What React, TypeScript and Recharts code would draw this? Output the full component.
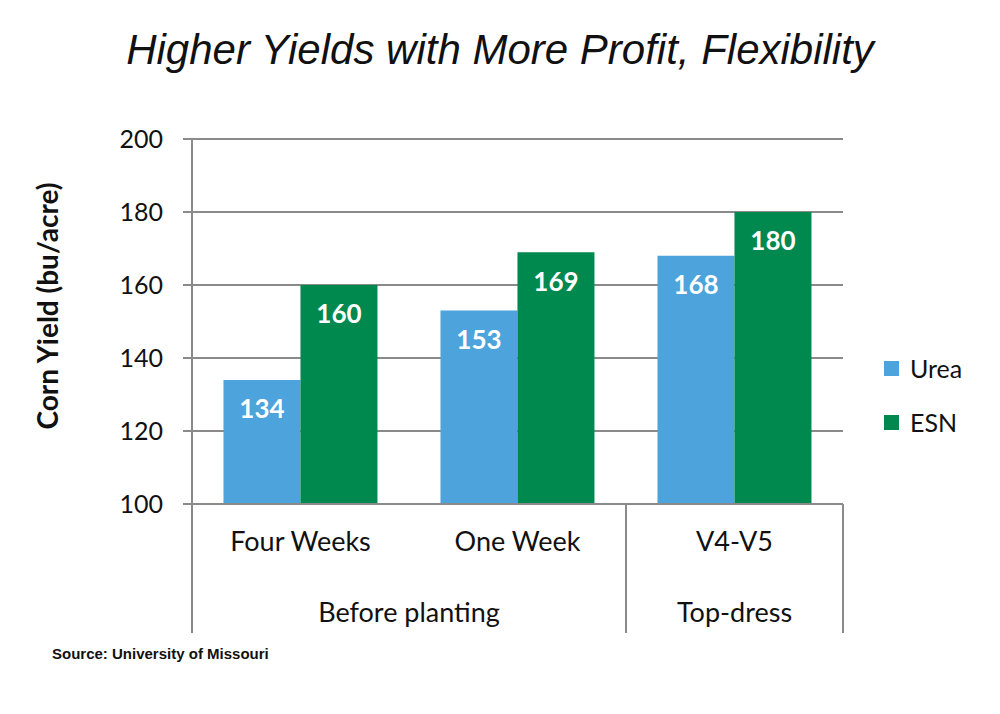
import { Bar, BarChart, CartesianGrid, LabelList, XAxis, YAxis } from "recharts";

const CATEGORIES = ["Four Weeks", "One Week", "V4-V5"];
const GROUPS = ["Before planting", "Before planting", "Top-dress"];
const UREA = [134, 153, 168];
const ESN = [160, 169, 180];
const Y_TICKS = [100, 120, 140, 160, 180, 200];

const BLUE = "#4DA3DB";
const GREEN = "#00894F";
const AXIS = "#8A8A8A";
const FONT = "Lato, 'Open Sans', sans-serif";

const data = CATEGORIES.map((name, i) => ({
  name,
  group: GROUPS[i],
  urea: UREA[i],
  esn: ESN[i],
}));

// two-level category tick: category label, plus group label and separators
function GroupTick(props: any) {
  const { x, payload } = props;
  const y = props.y - 8; // back to the axis line
  const i = payload.index as number;
  const half = payload.offset as number;
  const group = GROUPS[i];
  const first = i === 0 || GROUPS[i - 1] !== group;
  const last = i === GROUPS.length - 1 || GROUPS[i + 1] !== group;
  const size = GROUPS.filter((g) => g === group).length;
  const left = x - half;
  return (
    <g>
      <text x={x} y={y + 47} textAnchor="middle" fontFamily={FONT} fontSize={27} fill="#111">
        {payload.value}
      </text>
      {first && (
        <>
          <line x1={left} y1={y} x2={left} y2={y + 129} stroke={AXIS} strokeWidth={2} />
          <text
            x={left + half * size}
            y={y + 118}
            textAnchor="middle"
            fontFamily={FONT}
            fontSize={27}
            fill="#111"
          >
            {group}
          </text>
        </>
      )}
      {last && (
        <line x1={x + half} y1={y} x2={x + half} y2={y + 129} stroke={AXIS} strokeWidth={2} />
      )}
    </g>
  );
}

function LegendBox() {
  const items = [
    { label: "Urea", color: BLUE },
    { label: "ESN", color: GREEN },
  ];
  return (
    <div style={{ fontFamily: FONT }}>
      {items.map((it) => (
        <div key={it.label} style={{ display: "flex", alignItems: "center", height: 54 }}>
          <span
            style={{ width: 15, height: 15, background: it.color, display: "block", marginRight: 11 }}
          />
          <span style={{ fontSize: 25, color: "#111" }}>{it.label}</span>
        </div>
      ))}
    </div>
  );
}

export default function App() {
  return (
    <div
      style={{
        position: "absolute",
        left: 0,
        top: 0,
        width: 1000,
        height: 714,
        background: "#fff",
      }}
    >
      <div
        style={{
          position: "absolute",
          left: 0,
          width: 1000,
          top: 26,
          textAlign: "center",
          fontFamily: "'Liberation Sans', Arial, sans-serif",
          fontStyle: "italic",
          fontSize: 42,
          lineHeight: "48px",
          color: "#111",
          paddingRight: 4,
        }}
      >
        Higher Yields with More Profit, Flexibility
      </div>
      <div
        style={{
          position: "absolute",
          left: 47,
          top: 306,
          transform: "translate(-50%, -50%) rotate(-90deg)",
          whiteSpace: "nowrap",
          fontFamily: FONT,
          fontWeight: 700,
          fontSize: 28,
          color: "#111",
        }}
      >
        Corn Yield (bu/acre)
      </div>
      <div
        style={{
          position: "absolute",
          left: 52,
          top: 645,
          fontFamily: "'Liberation Sans Narrow', 'Liberation Sans', Arial, sans-serif",
          fontWeight: 700,
          fontSize: 15,
          color: "#111",
        }}
      >
        Source: University of Missouri
      </div>
      <div style={{ position: "absolute", left: 884, top: 341, width: 110 }}>
        <LegendBox />
      </div>
      <BarChart
        width={1000}
        height={714}
        data={data}
        margin={{ top: 139, right: 157, left: 112, bottom: 80 }}
        barCategoryGap="14.5%"
        barGap={0}
        style={{ position: "absolute", left: 0, top: 0 }}
      >
        <CartesianGrid vertical={false} stroke={AXIS} strokeWidth={2} />
        <XAxis
          dataKey="name"
          height={130}
          axisLine={{ stroke: AXIS, strokeWidth: 2 }}
          tickLine={false}
          tick={<GroupTick />}
          interval={0}
        />
        <YAxis
          width={80}
          domain={[100, 200]}
          ticks={Y_TICKS}
          allowDataOverflow
          axisLine={{ stroke: AXIS, strokeWidth: 2 }}
          tickLine={{ stroke: AXIS, strokeWidth: 2 }}
          tickSize={9}
          tickMargin={20}
          tick={{ fill: "#111", fontSize: 25, fontFamily: FONT }}
        />
        <Bar dataKey="urea" name="Urea" fill={BLUE} isAnimationActive={false}>
          <LabelList
            dataKey="urea"
            position="insideTop"
            offset={20}
            fill="#fff"
            fontSize={26}
            fontWeight={700}
            fontFamily={FONT}
          />
        </Bar>
        <Bar dataKey="esn" name="ESN" fill={GREEN} isAnimationActive={false}>
          <LabelList
            dataKey="esn"
            position="insideTop"
            offset={20}
            fill="#fff"
            fontSize={26}
            fontWeight={700}
            fontFamily={FONT}
          />
        </Bar>
      </BarChart>
    </div>
  );
}
